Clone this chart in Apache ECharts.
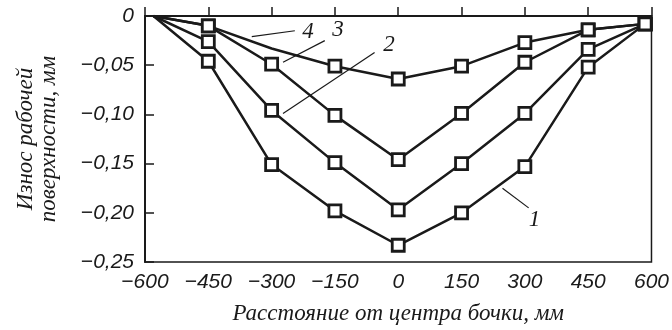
<!DOCTYPE html>
<html>
<head>
<meta charset="utf-8">
<script src="https://cdn.jsdelivr.net/npm/echarts@6/dist/echarts.min.js"></script>
<style>
  html, body { margin: 0; padding: 0; background: #fff; }
  #chart { width: 672px; height: 330px; }
</style>
</head>
<body>
<div id="chart"></div>
<script>
// расстояние от центра бочки, мм
var xPoints = [-580, -450, -300, -150, 0, 150, 300, 450, 585];
// износ, мм (кривые 1..4)
var wear1 = [0, -0.046, -0.151, -0.198, -0.233, -0.200, -0.153, -0.052, -0.008];
var wear2 = [0, -0.026, -0.096, -0.149, -0.197, -0.150, -0.099, -0.034, -0.008];
var wear3 = [0, -0.010, -0.049, -0.101, -0.146, -0.099, -0.047, -0.014, -0.008];
var wear4 = [0, -0.010, -0.033, -0.051, -0.064, -0.051, -0.027, -0.014, -0.008];
var noMarker4 = [0, 2]; // точки кривой 4 без квадрата
var xTicks = [-600, 600, 150];
var yTicks = [-0.25, 0, 0.05];

// выноски: [начало, конец, позиция подписи, подпись]
var leaders = [
  [[-347, -0.021], [-245, -0.015], [-214, -0.016], '4'],
  [[-273, -0.047], [-174, -0.025], [-143, -0.014], '3'],
  [[-273, -0.099], [-56, -0.037], [-22, -0.029], '2'],
  [[247, -0.175], [309, -0.195], [323, -0.207], '1']
];

var ink = '#1a1a1a';
var sansIt = { fontFamily: 'Liberation Sans', fontStyle: 'italic', fontSize: 21, color: ink };
var serifIt = { fontFamily: 'Liberation Serif', fontStyle: 'italic', fontSize: 23, color: ink };

function build(ys, hidden) {
  return xPoints.map(function (x, i) {
    var p = { value: [x, ys[i]] };
    if (hidden.indexOf(i) >= 0) p.symbol = 'none';
    return p;
  });
}

function lineSeries(ys, hidden) {
  return {
    type: 'line',
    data: build(ys, hidden),
    symbol: 'rect',
    symbolSize: 12,
    showAllSymbol: true,
    z: 3,
    lineStyle: { color: ink, width: 2.5 },
    itemStyle: { color: '#fff', borderColor: ink, borderWidth: 2.8 }
  };
}

var myChart = echarts.init(document.getElementById('chart'));
var option = {
  animation: false,
  grid: {
    left: 145, right: 20, top: 16, bottom: 65,
    show: true, borderColor: ink, borderWidth: 1.5, backgroundColor: 'transparent'
  },
  xAxis: {
    type: 'value',
    min: xTicks[0], max: xTicks[1], interval: xTicks[2],
    name: 'Расстояние от центра бочки, мм',
    nameLocation: 'middle',
    nameGap: 40,
    nameTextStyle: serifIt,
    axisLine: { lineStyle: { color: ink, width: 2 } },
    axisTick: { inside: true, length: 9, lineStyle: { color: ink, width: 1.5 } },
    axisLabel: Object.assign({ margin: 10, formatter: function (v) {
      return v < 0 ? '\u2212' + Math.abs(v) : String(v);
    } }, sansIt),
    splitLine: { show: false }
  },
  yAxis: {
    type: 'value',
    min: yTicks[0], max: yTicks[1], interval: yTicks[2],
    name: 'Износ рабочей\nповерхности, мм',
    nameLocation: 'middle',
    nameGap: 85,
    nameRotate: 90,
    nameTextStyle: Object.assign({ lineHeight: 23 }, serifIt),
    axisLine: { onZero: false, lineStyle: { color: ink, width: 2 } },
    axisTick: { inside: true, length: 9, lineStyle: { color: ink, width: 1.5 } },
    axisLabel: Object.assign({ margin: 11, formatter: function (v) {
      if (Math.abs(v) < 1e-9) return '0';
      return '\u2212' + Math.abs(v).toFixed(2).replace('.', ',');
    } }, sansIt),
    splitLine: { show: false }
  },
  series: [
    lineSeries(wear1, [0]),
    lineSeries(wear2, [0]),
    lineSeries(wear3, [0]),
    lineSeries(wear4, noMarker4),
    {
      type: 'line',
      data: [],
      silent: true,
      markLine: {
        silent: true,
        symbol: ['none', 'none'],
        label: { show: false },
        lineStyle: { color: ink, width: 1.2, type: 'solid' },
        data: leaders.map(function (l) {
          return [{ coord: l[0] }, { coord: l[1] }];
        })
      },
      markPoint: {
        silent: true,
        symbol: 'circle',
        symbolSize: 0,
        label: Object.assign({ show: true, position: 'inside', formatter: '{b}' }, serifIt),
        data: leaders.map(function (l) {
          return { name: l[3], coord: l[2] };
        })
      }
    }
  ]
};
myChart.setOption(option);
</script>
</body>
</html>
